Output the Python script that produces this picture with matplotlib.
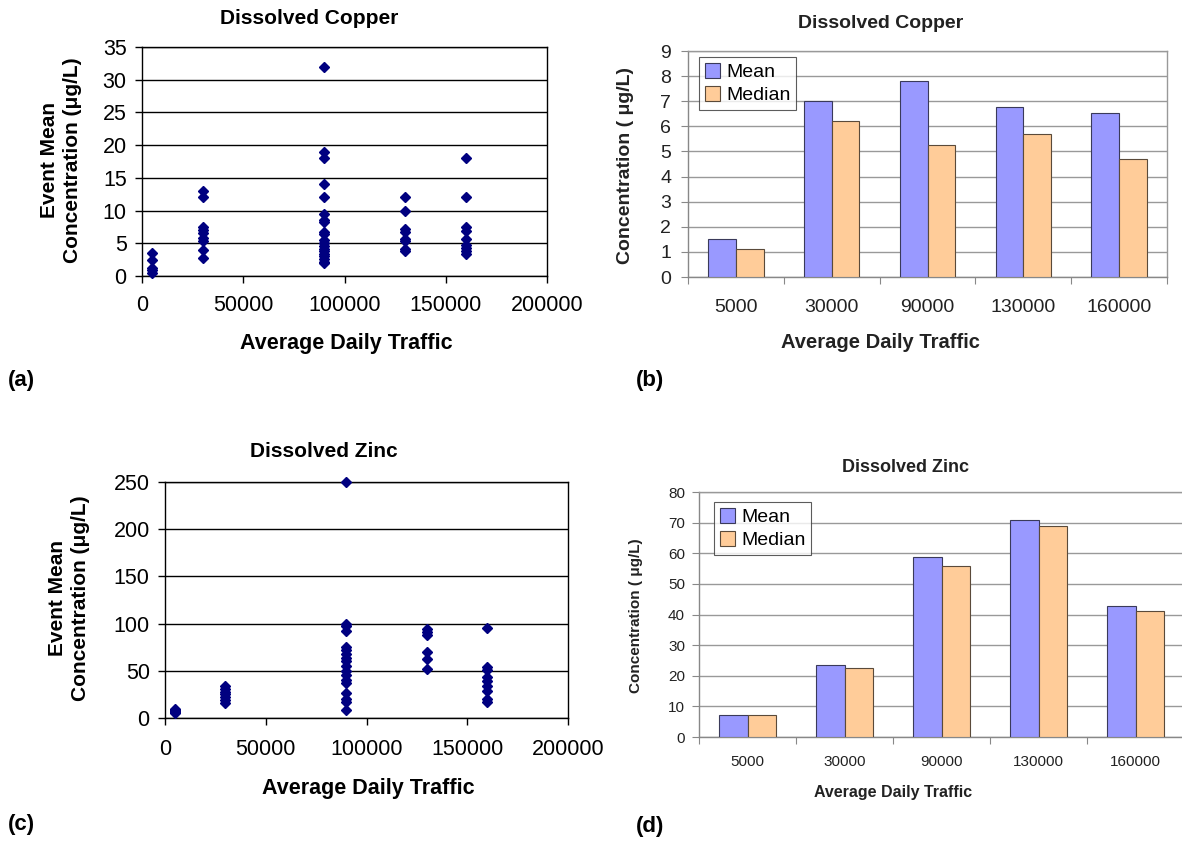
import matplotlib
matplotlib.use("Agg")
import matplotlib.pyplot as plt

plt.rcParams['font.family'] = ['Liberation Sans', 'DejaVu Sans']

# scatter data: event mean concentrations per site traffic (ADT)
cu_5000 = [3.5, 2.4, 1.2, 0.9, 0.5]
cu_30000 = [13, 12, 7.5, 7, 6.5, 5.8, 5.4, 4, 2.8]
cu_90000 = [32, 19, 18, 14, 12, 9.4, 8.6, 8.2, 6.8, 6.4, 5.5, 5.0, 4.6, 4.2, 3.8, 3.4, 3.0, 2.6, 2.2, 2.0]
cu_130000 = [12, 10, 7.2, 6.7, 5.7, 5.4, 4.1, 3.8]
cu_160000 = [18, 12, 7.5, 6.9, 5.7, 4.8, 4.3, 3.8, 3.3]

zn_5000 = [10, 8.5, 7, 6, 5]
zn_30000 = [34, 31, 28, 25, 22, 19, 16]
zn_90000 = [250, 100, 97, 92, 75, 72, 68, 64, 60, 55, 50, 46, 40, 37, 27, 20, 17, 9]
zn_130000 = [94, 91, 88, 70, 62, 52]
zn_160000 = [95, 54, 51, 43, 39, 34, 29, 20, 17]

adt = [5000, 30000, 90000, 130000, 160000]
adt_labels = ["5000", "30000", "90000", "130000", "160000"]

# bar data
cu_mean = [1.5, 7.0, 7.8, 6.75, 6.55]
cu_median = [1.1, 6.2, 5.25, 5.7, 4.7]
zn_mean = [7.2, 23.5, 58.7, 71.0, 42.7]
zn_median = [7.1, 22.5, 56.0, 69.0, 41.0]

W, H = 1182, 846
fig = plt.figure(figsize=(W / 100, H / 100), dpi=100)


def px_axes(left, right, top, bottom):
    return fig.add_axes([left / W, (H - bottom) / H, (right - left) / W, (bottom - top) / H])


def ftext(x, y, s, **kw):
    fig.text(x / W, (H - y) / H, s, **kw)


def scatter_panel(ax, groups, ymax, ystep, pad_x):
    for x, vals in zip(adt, groups):
        ax.plot([x] * len(vals), vals, linestyle="none", marker="D", ms=5.5,
                color="#000080", mec="#000080", clip_on=False, zorder=3)
    ax.set_xlim(0, 200000)
    ax.set_ylim(0, ymax)
    ax.set_xticks(range(0, 200001, 50000))
    ax.set_yticks(range(0, ymax + 1, ystep))
    ax.yaxis.grid(True, color="black", lw=1)
    ax.set_axisbelow(True)
    for s in ax.spines.values():
        s.set_color("black")
        s.set_linewidth(1)
    ax.tick_params(direction="out", length=5, width=1, labelsize=15.5)
    ax.tick_params(axis="x", pad=pad_x)
    ax.tick_params(axis="y", pad=6)


def bar_panel(ax, mean, median, ymax, ystep, tick_fs, pad_x, pad_y, leg_xy):
    idx = list(range(len(adt_labels)))
    w = 0.29
    ax.bar([i - w / 2 for i in idx], mean, w, color="#9999FF", edgecolor="#3a3a5a",
           lw=0.8, label="Mean", zorder=3)
    ax.bar([i + w / 2 for i in idx], median, w, color="#FFCC99", edgecolor="#5a4a3a",
           lw=0.8, label="Median", zorder=3)
    ax.set_xlim(-0.5, len(idx) - 0.5)
    ax.set_ylim(0, ymax)
    ax.set_yticks(range(0, ymax + 1, ystep))
    ax.set_xticks([i - 0.5 for i in range(len(idx) + 1)])
    ax.set_xticklabels([])
    ax.set_xticks(idx, minor=True)
    ax.set_xticklabels(adt_labels, minor=True)
    ax.tick_params(axis="x", which="minor", length=0, labelsize=tick_fs, pad=pad_x,
                   labelcolor="#222222")
    ax.tick_params(axis="x", which="major", length=5, color="#888888", direction="out")
    ax.tick_params(axis="y", length=5, color="#888888", direction="out",
                   labelsize=tick_fs, pad=pad_y, labelcolor="#222222")
    ax.yaxis.grid(True, color="#999999", lw=1)
    ax.set_axisbelow(True)
    for name, s in ax.spines.items():
        s.set_color("#999999" if name in ("top", "right") else "#888888")
        s.set_linewidth(1)
    leg = ax.legend(loc="upper left", bbox_to_anchor=leg_xy, borderaxespad=0,
                    fontsize=14, frameon=True, fancybox=False, handlelength=0.8,
                    handleheight=0.8, handletextpad=0.3, labelspacing=0.25,
                    borderpad=0.3)
    leg.get_frame().set_edgecolor("#333333")
    leg.get_frame().set_linewidth(0.8)


# (a) scatter copper
ax_a = px_axes(142, 547, 47, 276)
scatter_panel(ax_a, [cu_5000, cu_30000, cu_90000, cu_130000, cu_160000], 35, 5, 9)
ftext(309, 18, "Dissolved Copper", ha="center", va="center", fontsize=15, fontweight="bold")
ftext(61, 160, "Event Mean\nConcentration (\u03bcg/L)", rotation=90, ha="center", va="center",
      fontsize=15, fontweight="bold", multialignment="center", linespacing=1.25)
ftext(346, 343, "Average Daily Traffic", ha="center", va="center", fontsize=15.5, fontweight="bold")
ftext(8, 380, "(a)", ha="left", va="center", fontsize=16, fontweight="bold")

# (c) scatter zinc
ax_c = px_axes(165, 568, 482, 718)
scatter_panel(ax_c, [zn_5000, zn_30000, zn_90000, zn_130000, zn_160000], 250, 50, 10)
ftext(324, 451, "Dissolved Zinc", ha="center", va="center", fontsize=15, fontweight="bold")
ftext(69, 598, "Event Mean\nConcentration (\u03bcg/L)", rotation=90, ha="center", va="center",
      fontsize=15, fontweight="bold", multialignment="center", linespacing=1.25)
ftext(368, 788, "Average Daily Traffic", ha="center", va="center", fontsize=15.5, fontweight="bold")
ftext(8, 824, "(c)", ha="left", va="center", fontsize=16, fontweight="bold")

# (b) bars copper
ax_b = px_axes(688, 1167, 51, 277)
bar_panel(ax_b, cu_mean, cu_median, 9, 1, 14, 16, 7, (0.023, 0.973))
ftext(881, 23, "Dissolved Copper", ha="center", va="center", fontsize=14, fontweight="bold",
      color="#222222")
ftext(625, 165, "Concentration ( \u03bcg/L)", rotation=90, ha="center", va="center",
      fontsize=14, fontweight="bold", color="#222222")
ftext(880, 343, "Average Daily Traffic", ha="center", va="center", fontsize=14.5, fontweight="bold",
      color="#222222")
ftext(636, 380, "(b)", ha="left", va="center", fontsize=16, fontweight="bold")

# (d) bars zinc
ax_d = px_axes(699, 1184, 492, 737)
bar_panel(ax_d, zn_mean, zn_median, 80, 10, 11, 13, 5, (0.031, 0.959))
ftext(905, 467, "Dissolved Zinc", ha="center", va="center", fontsize=13, fontweight="bold",
      color="#222222")
ftext(636, 616, "Concentration ( \u03bcg/L)", rotation=90, ha="center", va="center",
      fontsize=11, fontweight="bold", color="#222222")
ftext(893, 792, "Average Daily Traffic", ha="center", va="center", fontsize=11.5, fontweight="bold",
      color="#222222")
ftext(636, 826, "(d)", ha="left", va="center", fontsize=16, fontweight="bold")

fig.savefig("out.png", dpi=100)
